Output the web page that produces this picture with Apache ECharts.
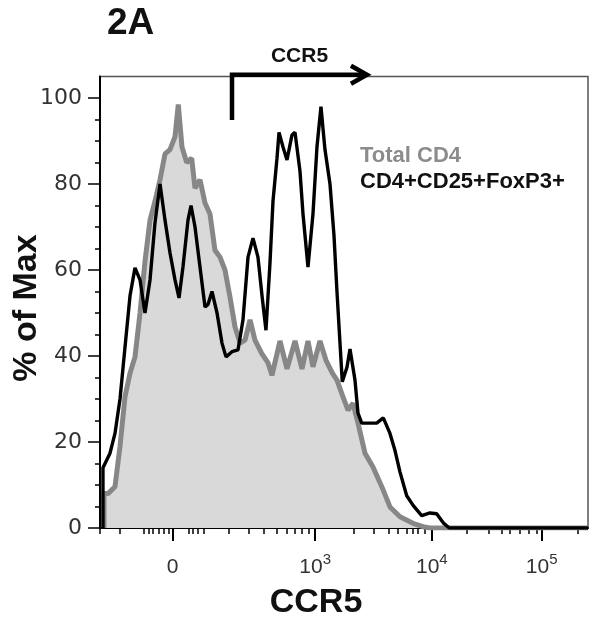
<!DOCTYPE html>
<html><head><meta charset="utf-8">
<script src="https://cdn.jsdelivr.net/npm/echarts@6/dist/echarts.min.js"></script>
<style>html,body{margin:0;padding:0;background:#fff}#c{width:597px;height:634px}</style>
</head><body><div id="c"></div>
<script>
const FONT = '"Liberation Sans", Arial, Helvetica, sans-serif';
const WIDE = '"DejaVu Sans", "Liberation Sans", Arial, sans-serif';

// CCR5 display channel (biexponential scale, 0-1000) and % of Max
const xTickChannels = [149, 441, 680, 905];
const xTickLabels = ['{b|0}', '{b|10}{s|3}', '{b|10}{s|4}', '{b|10}{s|5}'];
const xMinorTickChannels = [0, 41, 88.7, 99, 109, 119.5, 129.7, 140, 181, 191, 199.4, 211.7,
  263, 304, 334.6, 362, 382.6, 399.6, 413, 427, 519, 560, 591, 611, 628.5, 641, 652, 666,
  751, 796, 823, 840, 861, 878, 895, 980];
const yTickValues = [0, 20, 40, 60, 80, 100];
const yMinorTickValues = [5, 10, 15, 25, 30, 35, 45, 50, 55, 65, 70, 75, 85, 90, 95];

const totalCd4X = [8.2, 8.2, 16.4, 30.7, 41, 51.2, 61.5, 71.7, 82, 92.2, 102.5, 112.7, 123, 133.2, 143.4, 153.7, 160.4, 168, 177.7, 187.9, 194.7, 204.9, 215.2, 225.4, 235.6, 245.9, 256.1, 266.4, 276.6, 286.9, 297.1, 307.4, 317.6, 331.3, 344.3, 352.4, 368.8, 383.2, 399.6, 413.9, 426.2, 436.4, 450.8, 463.1, 476.2, 485.6, 497.9, 508.2, 518.4, 528.7, 543, 559.4, 577.9, 594.2, 614.8, 641.4, 661.8, 676.2, 1000];
const totalCd4Y = [0, 8, 8, 9.6, 19, 30.5, 36, 39.8, 50, 62, 71.6, 76, 81, 87, 88, 91, 98.5, 88.6, 85, 86, 79, 81, 75.6, 73, 64.6, 63, 60, 53.7, 46.8, 43, 43.7, 48.4, 43.7, 40.6, 38.4, 35.5, 43.5, 37, 43.5, 37, 43.5, 37.5, 43.5, 39, 36, 34.4, 30.5, 27.4, 29, 24.4, 17.4, 14.2, 9.5, 4.9, 2.6, 1.1, 0.3, 0, 0];

const tregX = [6.1, 6.1, 20.5, 30.7, 41, 51.2, 61.5, 71.7, 82, 92.2, 102.5, 112.7, 123, 133.2, 143.4, 153.7, 161.9, 170, 180.3, 186.5, 194.7, 204.9, 215.2, 221.3, 229.5, 239.8, 250, 258.2, 270.5, 282.8, 293, 303.3, 313.5, 323.7, 332, 340.1, 348.3, 354.5, 362.7, 366.8, 375, 383.2, 393.4, 399.6, 409.8, 416, 426.2, 436.4, 444.6, 452.8, 461, 471.3, 479.5, 485.6, 491.8, 496.5, 506.1, 512.3, 522.5, 528.7, 536.3, 567, 580.5, 594.2, 604.5, 614.8, 628.5, 642, 659.2, 676.2, 689.9, 703.4, 715.7, 1000];
const tregY = [0, 14, 17.4, 22, 30, 42, 54, 60.5, 57.7, 50, 57.7, 71, 80, 71.6, 64, 57.7, 53.5, 60.7, 71.6, 75, 70, 60.7, 51.4, 52, 55, 50, 43, 39.8, 41, 41.4, 48.4, 63, 67.4, 63, 54, 46, 61.6, 76, 86, 92, 88.6, 85.6, 91.4, 92, 83, 73, 60.7, 73, 88.6, 98, 88, 80, 68, 55, 43, 34, 37.4, 41.6, 34.4, 26.7, 24.4, 24.4, 25.6, 22, 18, 13, 7.5, 5.2, 2.9, 3.5, 3.3, 1.2, 0, 0];

// CCR5+ gate (channel start, channel end, % levels of bracket)
const gateChannels = [270.5, 547];
const gateLevels = [94.9, 105.4];

const chart = echarts.init(document.getElementById('c'), null, {renderer: 'canvas'});

const zip = (xs, ys) => xs.map((x, i) => [x, ys[i]]);

chart.setOption({
  animation: false,
  backgroundColor: '#fff',
  textStyle: {fontFamily: FONT},
  grid: {left: 100, right: 9, top: 76.5, bottom: 106, show: true, borderColor: '#555', borderWidth: 1.5, backgroundColor: 'transparent'},
  legend: {
    orient: 'vertical', left: 350, top: 140, icon: 'none', itemWidth: 0, itemHeight: 22, itemGap: 4,
    selectedMode: false,
    textStyle: {fontFamily: FONT, fontSize: 22, fontWeight: 'bold'},
    data: [
      {name: 'Total CD4', textStyle: {color: '#8c8c8c'}},
      {name: 'CD4+CD25+FoxP3+', textStyle: {color: '#111'}}
    ]
  },
  xAxis: [{
    type: 'value', min: 0, max: 1000, position: 'bottom',
    axisLine: {show: true, lineStyle: {color: '#000', width: 2}},
    axisTick: {show: true, customValues: xTickChannels, length: 13, lineStyle: {color: '#000', width: 2}},
    axisLabel: {
      show: true, customValues: xTickChannels, margin: 24, color: '#333', fontSize: 21, fontFamily: FONT,
      formatter: v => { const i = xTickChannels.indexOf(v); return i >= 0 ? xTickLabels[i] : ''; },
      rich: {
        b: {fontSize: 21, lineHeight: 26, verticalAlign: 'bottom', color: '#333', fontFamily: FONT},
        s: {fontSize: 15, lineHeight: 19, verticalAlign: 'top', color: '#333', fontFamily: FONT}
      }
    },
    splitLine: {show: false}
  }, {
    type: 'value', min: 0, max: 1000, position: 'bottom',
    axisLine: {show: false},
    axisTick: {show: true, customValues: xMinorTickChannels, length: 6, lineStyle: {color: '#000', width: 1.5}},
    axisLabel: {show: false},
    splitLine: {show: false}
  }],
  yAxis: [{
    type: 'value', min: 0, max: 105, position: 'left',
    axisLine: {show: true, lineStyle: {color: '#000', width: 2}},
    axisTick: {show: true, customValues: yTickValues, length: 12, lineStyle: {color: '#000', width: 1.5}},
    axisLabel: {show: true, customValues: yTickValues, margin: 18, color: '#333', fontSize: 22, fontFamily: WIDE},
    splitLine: {show: false}
  }, {
    type: 'value', min: 0, max: 105, position: 'left',
    axisLine: {show: false},
    axisTick: {show: true, customValues: yMinorTickValues, length: 5, lineStyle: {color: '#000', width: 1.5}},
    axisLabel: {show: false},
    splitLine: {show: false}
  }],
  series: [{
    name: 'Total CD4', type: 'line', xAxisIndex: 0, yAxisIndex: 0,
    data: zip(totalCd4X, totalCd4Y), showSymbol: false, symbol: 'none',
    lineStyle: {color: '#878787', width: 5}, itemStyle: {color: '#878787'},
    areaStyle: {color: '#d9d9d9', opacity: 1}, z: 2
  }, {
    name: 'CD4+CD25+FoxP3+', type: 'line', xAxisIndex: 0, yAxisIndex: 0,
    data: zip(tregX, tregY), showSymbol: false, symbol: 'none',
    lineStyle: {color: '#000', width: 3.4}, itemStyle: {color: '#000'}, z: 3
  }]
});

function drawGraphics() {
  const p0 = chart.convertToPixel({xAxisIndex: 0, yAxisIndex: 0}, [gateChannels[0], gateLevels[0]]);
  const p1 = chart.convertToPixel({xAxisIndex: 0, yAxisIndex: 0}, [gateChannels[0], gateLevels[1]]);
  const p2 = chart.convertToPixel({xAxisIndex: 0, yAxisIndex: 0}, [gateChannels[1], gateLevels[1]]);
  chart.setOption({
    graphic: [
      {type: 'polyline', z: 10, shape: {points: [p0, p1, p2]}, style: {stroke: '#000', lineWidth: 4.5, fill: null, lineJoin: 'miter'}},
      {type: 'polyline', z: 10, shape: {points: [[p2[0] - 16, p2[1] - 9], [p2[0], p2[1]], [p2[0] - 16, p2[1] + 9]]}, style: {stroke: '#000', lineWidth: 4.5, fill: null, lineJoin: 'miter'}},
      {type: 'text', z: 10, style: {text: 'CCR5', x: (p0[0] + p2[0]) / 2, y: 56, textAlign: 'center', textVerticalAlign: 'middle', font: 'bold 21px ' + FONT, fill: '#111'}},
      {type: 'text', z: 10, style: {text: '2A', x: 107, y: 24, textAlign: 'left', textVerticalAlign: 'middle', font: 'bold 37px ' + FONT, fill: '#111'}},
      {type: 'text', z: 10, rotation: Math.PI / 2, x: 27, y: 308, style: {text: '% of Max', x: 0, y: 0, textAlign: 'center', textVerticalAlign: 'middle', font: 'bold 34px ' + FONT, fill: '#111'}},
      {type: 'text', z: 10, style: {text: 'CCR5', x: 316, y: 603, textAlign: 'center', textVerticalAlign: 'middle', font: 'bold 34px ' + FONT, fill: '#111'}}
    ]
  });
}
drawGraphics();
</script>
</body></html>
